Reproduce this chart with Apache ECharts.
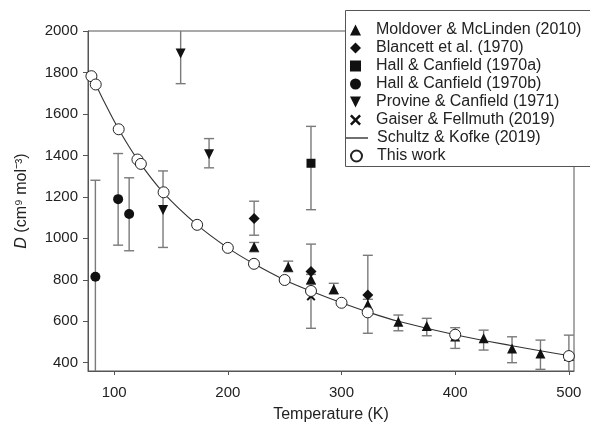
<!DOCTYPE html>
<html><head><meta charset="utf-8">
<script src="https://cdn.jsdelivr.net/npm/echarts@6/dist/echarts.min.js"></script>
<style>html,body{margin:0;padding:0;background:#fff}#c{width:590px;height:432px}</style>
</head><body><div id="c"></div>
<script>
// ---- data ----
var xTicks = [100, 200, 300, 400, 500];
var yTicks = [400, 600, 800, 1000, 1200, 1400, 1600, 1800, 2000];

var moldoverT  = [223.15, 253.15, 273.16, 293.15, 323.15, 350, 375, 400, 425, 450, 475, 500];
var moldoverD  = [959, 863, 802, 755, 681, 598, 577, 527, 518, 469, 445, 432];
var moldoverLo = [935, 839, 778, 731, 656, 554, 530, 469, 461, 400, 368, 330];
var moldoverHi = [980, 890, 826, 783, 706, 630, 614, 569, 557, 525, 509, 533];

var blancettT  = [223.15, 273.15, 323.15];
var blancettD  = [1096, 840, 726];
var blancettLo = [1015, 566, 542];
var blancettHi = [1179, 972, 918];

var hallAT  = [273.15];
var hallAD  = [1362];
var hallALo = [1138];
var hallAHi = [1540];

var hallBT  = [83.5, 103.5, 113.2];
var hallBD  = [815, 1189, 1117];
var hallBLo = [300, 967, 940];
var hallBHi = [1280, 1409, 1292];

var provineT  = [143, 158.5, 183.5];
var provineD  = [1136, 1891, 1406];
var provineLo = [956, 1746, 1340];
var provineHi = [1325, 2060, 1481];

var gaiserT = [273.16];
var gaiserD = [720];

var schultzT = [77, 80, 83.8, 90, 104, 120, 143, 173, 200, 223, 250, 273, 300, 323, 350, 400, 450, 504.5];
var schultzD = [1808, 1782, 1742, 1672, 1526, 1385, 1222, 1065, 954, 877, 799, 746, 689, 645, 600, 535, 482, 430];

var workT = [80, 83.8, 104, 120.5, 123.5, 143.5, 173, 200, 223, 250, 273.16, 300, 323, 400, 500];
var workD = [1782, 1742, 1526, 1380, 1359, 1222, 1065, 954, 877, 799, 746, 689, 643, 535, 432];

var legendNames = ['Moldover & McLinden (2010)', 'Blancett et al. (1970)', 'Hall & Canfield (1970a)',
  'Hall & Canfield (1970b)', 'Provine & Canfield (1971)', 'Gaiser & Fellmuth (2019)',
  'Schultz & Kofke (2019)', 'This work'];

// ---- helpers ----
function pairs(xs, ys) { return xs.map(function (x, i) { return [x, ys[i]]; }); }
function triples(xs, lo, hi) { return xs.map(function (x, i) { return [x, lo[i], hi[i]]; }); }
function errRender(params, api) {
  var x = api.value(0), lo = api.value(1), hi = api.value(2);
  var p1 = api.coord([x, hi]), p2 = api.coord([x, lo]);
  var w = 5;
  var st = { stroke: '#7a7a7a', lineWidth: 1.4 };
  return { type: 'group', children: [
    { type: 'line', shape: { x1: p1[0], y1: p1[1], x2: p2[0], y2: p2[1] }, style: st },
    { type: 'line', shape: { x1: p1[0] - w, y1: p1[1], x2: p1[0] + w, y2: p1[1] }, style: st },
    { type: 'line', shape: { x1: p2[0] - w, y1: p2[1], x2: p2[0] + w, y2: p2[1] }, style: st }
  ]};
}
function errSeries(name, xs, lo, hi) {
  return { name: name, type: 'custom', renderItem: errRender, clip: true, z: 2,
    encode: { x: 0, y: [1, 2] }, data: triples(xs, lo, hi), silent: true };
}
var DOWN = 'path://M0,0 L10,0 L5,10 Z';
var CROSS = 'path://M0,1.6 L1.6,0 L5,3.4 L8.4,0 L10,1.6 L6.6,5 L10,8.4 L8.4,10 L5,6.6 L1.6,10 L0,8.4 L3.4,5 Z';
var black = '#111';
var font = 'Liberation Sans, Arial, sans-serif';
function plain(v) { return String(v); }
function legText(pad) {
  return { fontFamily: font, fontSize: 16, color: '#222', lineHeight: 18, padding: [0, 0, 0, pad] };
}
function legendBlock(names, top, iw, left, pad) {
  return { orient: 'vertical', left: left, top: top, padding: 0, itemGap: 0,
    itemWidth: iw, itemHeight: 11, z: 8, textStyle: legText(pad), data: names, selectedMode: false };
}

var chart = echarts.init(document.getElementById('c'), null, { renderer: 'canvas' });
chart.setOption({
  animation: false,
  backgroundColor: '#fff',
  grid: { left: 88, right: 16, top: 31, bottom: 61, show: true, borderColor: '#555', borderWidth: 1, backgroundColor: 'transparent' },
  graphic: [{ type: 'rect', left: 345, top: 10, z: 7, silent: true,
    shape: { width: 270, height: 156 }, style: { fill: '#fff', stroke: '#555', lineWidth: 1 } }],
  xAxis: {
    type: 'value', min: 77, max: 504.5,
    name: 'Temperature (K)', nameLocation: 'middle', nameGap: 36,
    nameTextStyle: { fontFamily: font, fontSize: 16, color: '#222' },
    axisLine: { lineStyle: { color: '#555' } },
    axisTick: { show: true, length: 4, lineStyle: { color: '#555' }, customValues: xTicks },
    axisLabel: { fontFamily: font, fontSize: 15, color: '#222', margin: 14, customValues: xTicks, formatter: plain },
    splitLine: { show: false }
  },
  yAxis: {
    type: 'value', min: 360, max: 2000,
    name: '{i|D} (cm⁹ mol⁻³)', nameLocation: 'middle', nameGap: 58, nameRotate: 90,
    nameTextStyle: { fontFamily: font, fontSize: 16, color: '#222',
      rich: { i: { fontFamily: font, fontSize: 16, fontStyle: 'italic', color: '#222' } } },
    axisLine: { show: true, lineStyle: { color: '#555' } },
    axisTick: { show: true, length: 5, lineStyle: { color: '#555' }, customValues: yTicks },
    axisLabel: { fontFamily: font, fontSize: 15, color: '#222', margin: 10, customValues: yTicks, formatter: plain },
    splitLine: { show: false }
  },
  legend: [
    legendBlock(legendNames.slice(0, 6), 21, 11, 350, 10),
    legendBlock([{ name: legendNames[6], icon: 'path://M0,0 L22,0 L22,1.3 L0,1.3 Z', itemStyle: { color: '#222' } }], 129, 22, 346, 4),
    legendBlock(legendNames.slice(7), 147, 11, 350, 10)
  ],
  series: [
    { name: 'Schultz & Kofke (2019)', type: 'line', smooth: 0.4, symbol: 'none', z: 1,
      lineStyle: { color: '#333', width: 1.1 }, itemStyle: { color: '#222' }, data: pairs(schultzT, schultzD) },
    errSeries('e1', moldoverT, moldoverLo, moldoverHi),
    errSeries('e2', blancettT, blancettLo, blancettHi),
    errSeries('e3', hallAT, hallALo, hallAHi),
    errSeries('e4', hallBT, hallBLo, hallBHi),
    errSeries('e5', provineT, provineLo, provineHi),
    { name: legendNames[0], type: 'scatter', symbol: 'triangle', symbolSize: 10, z: 3,
      itemStyle: { color: black, opacity: 1 }, data: pairs(moldoverT, moldoverD) },
    { name: legendNames[1], type: 'scatter', symbol: 'diamond', symbolSize: 11, z: 3,
      itemStyle: { color: black, opacity: 1 }, data: pairs(blancettT, blancettD) },
    { name: legendNames[2], type: 'scatter', symbol: 'rect', symbolSize: 9, z: 3,
      itemStyle: { color: black, opacity: 1 }, data: pairs(hallAT, hallAD) },
    { name: legendNames[3], type: 'scatter', symbol: 'circle', symbolSize: 10, z: 3,
      itemStyle: { color: black, opacity: 1 }, data: pairs(hallBT, hallBD) },
    { name: legendNames[4], type: 'scatter', symbol: DOWN, symbolSize: 10, z: 3,
      itemStyle: { color: black, opacity: 1 }, data: pairs(provineT, provineD) },
    { name: legendNames[5], type: 'scatter', symbol: CROSS, symbolSize: 9, z: 3,
      itemStyle: { color: black, opacity: 1 }, data: pairs(gaiserT, gaiserD) },
    { name: legendNames[7], type: 'scatter', symbol: 'circle', symbolSize: 11, z: 4,
      itemStyle: { color: '#fff', borderColor: '#222', borderWidth: 1, opacity: 1 }, data: pairs(workT, workD) }
  ]
});
</script></body></html>
